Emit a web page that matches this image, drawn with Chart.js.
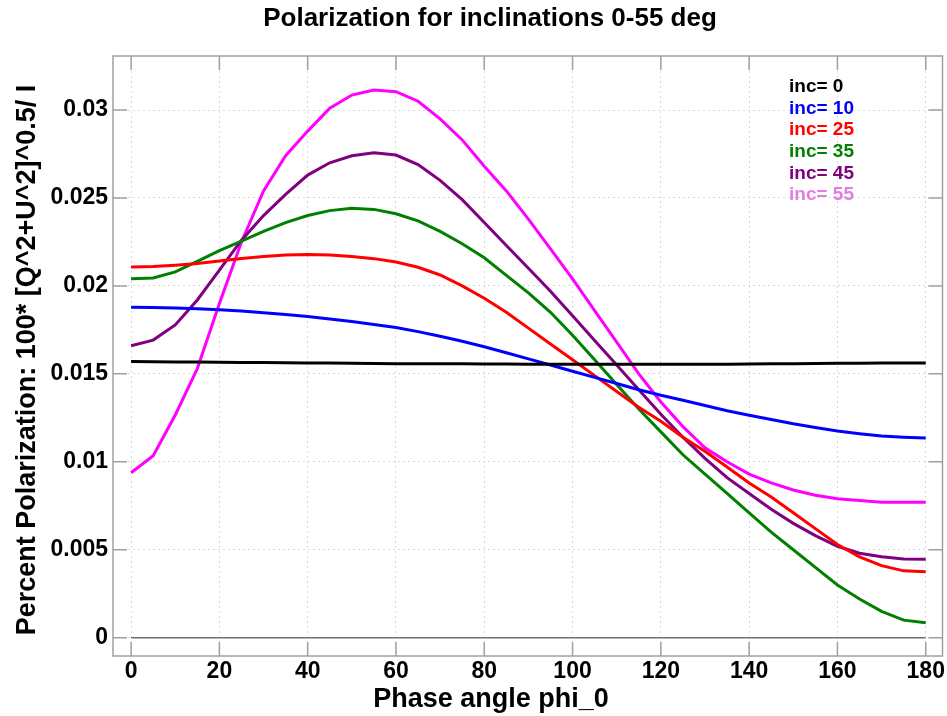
<!DOCTYPE html>
<html>
<head>
<meta charset="utf-8">
<title>Polarization for inclinations 0-55 deg</title>
<script src="https://cdn.jsdelivr.net/npm/chart.js@4.4.1/dist/chart.umd.min.js"></script>
<style>
  html, body { margin: 0; padding: 0; background: #fff; }
  #wrap { width: 947px; height: 716px; }
</style>
</head>
<body>
<div id="wrap"><canvas id="polChart" width="947" height="716"></canvas></div>
<script>
// phase angle phi_0 (deg), one sample every 5 deg
const phase = [0, 5, 10, 15, 20, 25, 30, 35, 40, 45, 50, 55, 60, 65, 70, 75, 80, 85, 90,
  95, 100, 105, 110, 115, 120, 125, 130, 135, 140, 145, 150, 155, 160, 165, 170, 175, 180];

// percent polarization
const inc0 = [0.0157, 0.01569, 0.01568, 0.01567, 0.01566, 0.01565, 0.01564, 0.01563, 0.01562,
  0.01561, 0.0156, 0.01559, 0.01558, 0.01558, 0.01557, 0.01557, 0.01556, 0.01556, 0.01555,
  0.01555, 0.01555, 0.01555, 0.01554, 0.01554, 0.01554, 0.01554, 0.01555, 0.01555, 0.01556,
  0.01557, 0.01558, 0.01559, 0.0156, 0.0156, 0.01561, 0.01562, 0.01562];
const inc10 = [0.01878, 0.01877, 0.01874, 0.0187, 0.01865, 0.01857, 0.01848, 0.01838, 0.01826,
  0.01812, 0.01797, 0.0178, 0.01763, 0.0174, 0.01714, 0.01685, 0.01654, 0.0162, 0.01585,
  0.0155, 0.01515, 0.0148, 0.01445, 0.0141, 0.01378, 0.0135, 0.0132, 0.0129, 0.01265,
  0.0124, 0.01216, 0.01195, 0.01175, 0.0116, 0.01147, 0.0114, 0.01135];
const inc25 = [0.02107, 0.0211, 0.02118, 0.02128, 0.02142, 0.02156, 0.02167, 0.02175, 0.02179,
  0.02176, 0.02167, 0.02155, 0.02136, 0.02106, 0.02062, 0.02, 0.0193, 0.0185, 0.0176,
  0.0167, 0.0158, 0.0149, 0.014, 0.0131, 0.0123, 0.0114, 0.0106, 0.0097, 0.0088,
  0.008, 0.0071, 0.0062, 0.0053, 0.0046, 0.0041, 0.0038, 0.00375];
const inc35 = [0.0204, 0.02045, 0.0208, 0.0214, 0.022, 0.02255, 0.0231, 0.0236, 0.024,
  0.02428, 0.02441, 0.02435, 0.0241, 0.0237, 0.0231, 0.0224, 0.0216, 0.0206, 0.0196,
  0.0185, 0.0172, 0.0158, 0.0144, 0.013, 0.0117, 0.0104, 0.0093, 0.0082, 0.0071,
  0.006, 0.005, 0.004, 0.003, 0.0022, 0.0015, 0.001, 0.00085];
const inc45 = [0.0166, 0.01692, 0.01778, 0.0192, 0.0209, 0.0226, 0.024, 0.0252, 0.0263,
  0.027, 0.0274, 0.02757, 0.02744, 0.0269, 0.026, 0.0249, 0.0236, 0.0223, 0.021,
  0.0197, 0.0183, 0.0169, 0.0155, 0.0141, 0.0127, 0.0114, 0.0102, 0.0091, 0.0082,
  0.0073, 0.0065, 0.0058, 0.0052, 0.0048, 0.0046, 0.00448, 0.00446];
const inc55 = [0.00938, 0.01035, 0.01266, 0.0153, 0.019, 0.0225, 0.0254, 0.0274, 0.0288,
  0.0301, 0.03085, 0.03114, 0.03104, 0.0305, 0.0295, 0.0283, 0.0268, 0.0254, 0.0238,
  0.0221, 0.0204, 0.0186, 0.0168, 0.0150, 0.0134, 0.0120, 0.0108, 0.01, 0.0093,
  0.0088, 0.0084, 0.0081, 0.0079, 0.0078, 0.0077, 0.0077, 0.0077];

const seriesLabels = ["inc= 0", "inc= 10", "inc= 25", "inc= 35", "inc= 45", "inc= 55"];
const seriesValues = [inc0, inc10, inc25, inc35, inc45, inc55];
const lineColors = ["#000000", "#0000ff", "#ff0000", "#008000", "#800080", "#ff00ff"];
const legendColors = ["#000000", "#0000ff", "#ff0000", "#008000", "#800080", "#e07ee0"];

const FONT = "'Liberation Sans', Arial, Helvetica, sans-serif";
const FRAME = "#a0a0a0";

const datasets = seriesValues.map((vals, k) => ({
  label: seriesLabels[k],
  data: phase.map((p, i) => ({ x: p, y: vals[i] })),
  borderColor: lineColors[k],
  borderWidth: 3,
  pointRadius: 0,
  tension: 0,
  fill: false
}));

// frame, inward ticks, zero line, text legend and titles
const decorPlugin = {
  id: "decor",
  beforeDatasetsDraw(chart) {
    const { ctx, scales: { x, y } } = chart;
    ctx.save();
    ctx.strokeStyle = "#707070";
    ctx.lineWidth = 1.5;
    ctx.beginPath();
    ctx.moveTo(x.getPixelForValue(phase[0]), y.getPixelForValue(0));
    ctx.lineTo(x.getPixelForValue(phase[phase.length - 1]), y.getPixelForValue(0));
    ctx.stroke();
    ctx.restore();
  },
  afterDatasetsDraw(chart) {
    const { ctx, chartArea: a, scales: { x, y } } = chart;
    ctx.save();
    ctx.strokeStyle = FRAME;
    ctx.lineWidth = 1.5;
    ctx.strokeRect(a.left, a.top, a.right - a.left, a.bottom - a.top);

    const len = 14;
    ctx.beginPath();
    x.ticks.forEach(t => {
      const px = x.getPixelForValue(t.value);
      ctx.moveTo(px, a.bottom); ctx.lineTo(px, a.bottom - len);
      ctx.moveTo(px, a.top); ctx.lineTo(px, a.top + len);
    });
    y.ticks.forEach(t => {
      const py = y.getPixelForValue(t.value);
      ctx.moveTo(a.left, py); ctx.lineTo(a.left + len, py);
      ctx.moveTo(a.right, py); ctx.lineTo(a.right - len, py);
    });
    ctx.stroke();

    // legend (text only)
    ctx.font = "bold 19px " + FONT;
    ctx.textAlign = "left";
    ctx.textBaseline = "middle";
    seriesLabels.forEach((lab, k) => {
      ctx.fillStyle = legendColors[k];
      ctx.fillText(lab, 789, 87 + k * 21.6);
    });
    ctx.restore();
  },
  afterDraw(chart) {
    const ctx = chart.ctx;
    ctx.save();
    ctx.fillStyle = "#000";
    ctx.textAlign = "center";
    ctx.textBaseline = "middle";
    ctx.font = "bold 26px " + FONT;
    ctx.fillText("Polarization for inclinations 0-55 deg", 490, 19);
    ctx.font = "bold 27px " + FONT;
    ctx.fillText("Phase angle phi_0", 491, 700);
    ctx.translate(28, 360);
    ctx.rotate(-Math.PI / 2);
    ctx.fillText("Percent Polarization: 100* [Q^2+U^2]^0.5/ I", 0, 0);
    ctx.restore();
  }
};

new Chart(document.getElementById("polChart"), {
  type: "line",
  data: { datasets },
  options: {
    responsive: false,
    animation: false,
    layout: { padding: { left: 0, right: 4, top: 56, bottom: 0 } },
    plugins: { legend: { display: false }, title: { display: false }, tooltip: { enabled: false } },
    scales: {
      x: {
        type: "linear",
        min: -4.1,
        max: 183.8,
        afterFit: s => { s.height = 60; },
        ticks: {
          stepSize: 20,
          includeBounds: false,
          padding: 2,
          color: "#000",
          font: { family: FONT, size: 23, weight: "bold" },
          maxRotation: 0
        },
        grid: { color: "#dadada", lineWidth: 1, drawTicks: false },
        border: { display: false, dash: [2, 3] }
      },
      y: {
        type: "linear",
        min: -0.00104,
        max: 0.03307,
        afterFit: s => { s.width = 113; },
        ticks: {
          stepSize: 0.005,
          includeBounds: false,
          padding: 5,
          color: "#000",
          font: { family: FONT, size: 23, weight: "bold" },
          callback: v => String(+v.toFixed(4))
        },
        grid: { color: "#dadada", lineWidth: 1, drawTicks: false },
        border: { display: false, dash: [2, 3] }
      }
    }
  },
  plugins: [decorPlugin]
});
</script>
</body>
</html>
